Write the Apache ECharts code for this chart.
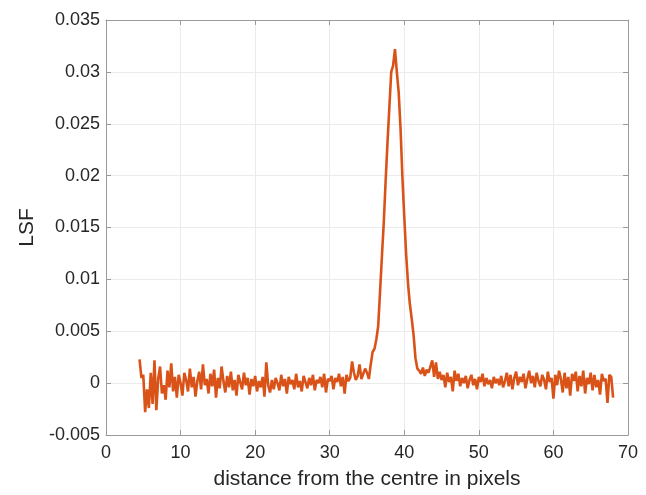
<!DOCTYPE html>
<html>
<head>
<meta charset="utf-8">
<script src="https://cdn.jsdelivr.net/npm/echarts@6/dist/echarts.min.js"></script>
<style>
html,body{margin:0;padding:0;background:#fff;}
#chart{width:646px;height:495px;}
</style>
</head>
<body>
<div id="chart"></div>
<script>
// x positions (distance from the centre, pixels)
const distance = [
4.5,4.75,5,5.25,5.5,5.75,
6,6.25,6.5,6.75,7,7.25,7.5,7.75,
8,8.25,8.5,8.75,9,9.25,9.5,9.75,
10,10.25,10.5,10.75,11,11.25,11.5,11.75,
12,12.25,12.5,12.75,13,13.25,13.5,13.75,
14,14.25,14.5,14.75,15,15.25,15.5,15.75,
16,16.25,16.5,16.75,17,17.25,17.5,17.75,
18,18.25,18.5,18.75,19,19.25,19.5,19.75,
20,20.25,20.5,20.75,21,21.25,21.5,21.75,
22,22.25,22.5,22.75,23,23.25,23.5,23.75,
24,24.25,24.5,24.75,25,25.25,25.5,25.75,
26,26.25,26.5,26.75,27,27.25,27.5,27.75,
28,28.25,28.5,28.75,29,29.25,29.5,29.75,
30,30.25,30.5,30.75,31,31.25,31.5,31.75,
32,32.25,32.5,32.75,33,33.25,33.5,33.75,
34,34.25,34.5,34.75,35,35.25,35.5,35.75,
36,36.25,36.5,36.75,37,37.25,37.5,37.75,
38,38.25,38.5,38.75,39,39.25,39.5,39.75,
40,40.25,40.5,40.75,41,41.25,41.5,41.75,
42,42.25,42.5,42.75,43,43.25,43.5,43.75,
44,44.25,44.5,44.75,45,45.25,45.5,45.75,
46,46.25,46.5,46.75,47,47.25,47.5,47.75,
48,48.25,48.5,48.75,49,49.25,49.5,49.75,
50,50.25,50.5,50.75,51,51.25,51.5,51.75,
52,52.25,52.5,52.75,53,53.25,53.5,53.75,
54,54.25,54.5,54.75,55,55.25,55.5,55.75,
56,56.25,56.5,56.75,57,57.25,57.5,57.75,
58,58.25,58.5,58.75,59,59.25,59.5,59.75,
60,60.25,60.5,60.75,61,61.25,61.5,61.75,
62,62.25,62.5,62.75,63,63.25,63.5,63.75,
64,64.25,64.5,64.75,65,65.25,65.5,65.75,
66,66.25,66.5,66.75,67,67.25,67.5,67.75,
68
];

// line spread function values
const lsf = [
0.0023,0.0005,0.0008,-0.0028,-0.0006,-0.0024,
0.0010,-0.0020,0.0022,-0.0026,0.0004,0.0016,-0.0010,-0.0002,
-0.0016,0.0012,-0.0004,0.0019,-0.0008,0.0006,-0.0014,0.0008,
0,-0.0012,0.0010,0.0003,-0.0008,0.0014,-0.0004,0.0006,
-0.0013,0.0002,0.0011,-0.0006,0.0018,-0.0002,0.0004,-0.0010,
0.0009,-0.0003,0.0013,-0.0014,0.0005,-0.0005,0.0016,0.0002,
-0.0009,0.0007,-0.0004,0.0011,-0.0007,0.0003,-0.0012,0.0008,
0.0001,-0.0006,0.0010,-0.0002,0.0005,-0.0011,0.0004,-0.0003,
0.0007,-0.0008,0.0002,-0.0004,0.0006,-0.0013,0.0020,-0.0002,
-0.0009,0.0003,-0.0006,0.0005,0,-0.0007,0.0008,-0.0003,
0.0004,-0.0010,0.0006,-0.0001,0.0003,-0.0006,0.0009,-0.0004,
0.0002,-0.0008,0.0007,0.0001,-0.0005,0.0005,-0.0002,0.0008,
-0.0007,0.0003,0,0.0006,-0.0004,0.0009,-0.0009,0.0004,
0.0002,0.0007,-0.0006,0.0005,0.0001,0.0009,-0.0003,0.0006,
-0.0010,0.0008,0.0002,0.0005,0.0021,0.0010,0.0003,0.0007,
0.0018,0.0004,0.0009,0.0014,0.0010,0.0004,0.0018,0.0030,
0.0033,0.0042,0.0055,0.0088,0.0122,0.0155,0.0195,0.0232,
0.0266,0.0300,0.0306,0.0322,0.0300,0.0280,0.0245,0.0198,
0.0160,0.0124,0.0096,0.0076,0.0062,0.0046,0.0024,0.0014,
0.0012,0.0009,0.0015,0.0007,0.0013,0.0010,0.0016,0.0022,
0.0006,0.0020,0.0004,0.0011,0.0003,0.0008,-0.0004,0.0010,
0.0001,0.0006,-0.0008,0.0012,0.0002,0.0009,-0.0003,0.0005,
0,0.0007,-0.0005,0.0003,0.0008,-0.0002,0.0004,-0.0006,
0.0006,0.0001,0.0009,-0.0003,0.0005,-0.0001,0.0003,-0.0005,
0.0006,0,0.0004,-0.0002,0.0007,-0.0004,0.0002,0.0010,
-0.0003,0.0008,-0.0006,0.0005,0.0011,-0.0002,0.0006,0.0001,
0.0009,-0.0005,0.0004,0.0012,0,0.0007,-0.0004,0.0010,
0.0002,-0.0003,0.0008,0.0003,-0.0006,0.0011,0.0001,0.0005,
-0.0015,0.0008,-0.0002,0.0012,0.0004,-0.0009,0.0010,-0.0005,
0.0006,-0.0012,0.0009,0.0002,0.0011,-0.0008,0.0007,-0.0003,
0.0012,-0.0010,0.0005,-0.0001,0.0010,-0.0007,0.0008,-0.0004,
0.0003,-0.0011,0.0009,0.0002,0.0004,-0.0019,0.0008,0.0006,
-0.0014
];

const xTitle = 'distance from the centre in pixels';
const yTitle = 'LSF';

const points = distance.map((d, i) => [d, lsf[i]]);

const chart = echarts.init(document.getElementById('chart'), null, {renderer: 'canvas'});
const FONT = 'Liberation Sans, Arial, Helvetica, sans-serif';
const TXT = '#262626';
const AX = '#9a9a9a';
const GRID = '#ebebeb';
const fmtY = v => String(+v.toFixed(3));

const common = {
  axisLine: {show: true, onZero: false, lineStyle: {color: AX, width: 1}},
  axisTick: {show: true, inside: true, length: 5, lineStyle: {color: AX}},
  splitLine: {show: false}
};

chart.setOption({
  animation: false,
  backgroundColor: '#fff',
  grid: {left: 106, right: 18, top: 20, bottom: 58, containLabel: false},
  xAxis: [
    Object.assign({}, common, {
      type: 'value', min: 0, max: 70, interval: 10, position: 'bottom',
      splitLine: {show: true, lineStyle: {color: GRID, width: 1}},
      axisLabel: {color: TXT, fontSize: 18, fontFamily: FONT, margin: 9},
      name: xTitle, nameLocation: 'middle', nameGap: 34,
      nameTextStyle: {color: TXT, fontSize: 21, fontFamily: FONT}
    }),
    Object.assign({}, common, {
      type: 'value', min: 0, max: 70, interval: 10, position: 'top',
      axisLabel: {show: false}
    })
  ],
  yAxis: [
    Object.assign({}, common, {
      type: 'value', min: -0.005, max: 0.035, interval: 0.005, position: 'left',
      splitLine: {show: true, lineStyle: {color: GRID, width: 1}},
      axisLabel: {color: TXT, fontSize: 18, fontFamily: FONT, margin: 6, formatter: fmtY},
      name: yTitle, nameLocation: 'middle', nameGap: 68,
      nameTextStyle: {color: TXT, fontSize: 21, fontFamily: FONT}
    }),
    Object.assign({}, common, {
      type: 'value', min: -0.005, max: 0.035, interval: 0.005, position: 'right',
      axisLabel: {show: false}
    })
  ],
  series: [{
    type: 'line',
    data: points,
    xAxisIndex: 0, yAxisIndex: 0,
    showSymbol: false,
    symbol: 'none',
    lineStyle: {color: '#D95319', width: 2.6},
    itemStyle: {color: '#D95319'}
  }]
});
</script>
</body>
</html>
